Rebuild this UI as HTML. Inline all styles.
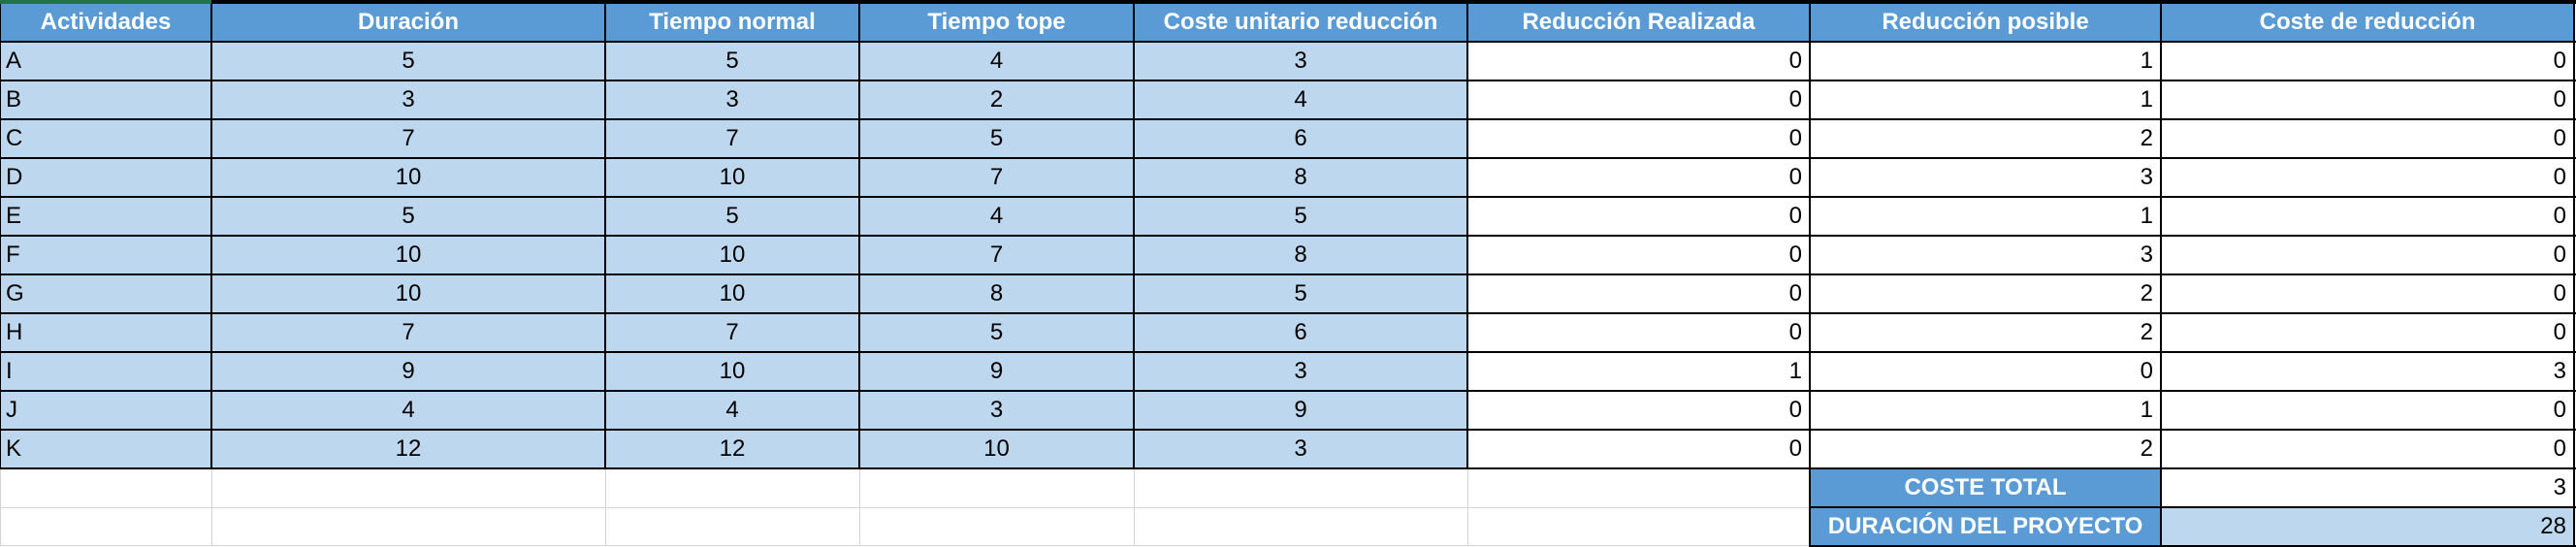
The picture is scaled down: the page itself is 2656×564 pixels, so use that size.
<!DOCTYPE html>
<html><head><meta charset="utf-8"><style>
body{margin:0;width:2656px;height:564px;background:#fff;position:relative;overflow:hidden;font-family:"Liberation Sans Narrow","Liberation Sans",sans-serif;}
.c{position:absolute;box-sizing:border-box;font-size:24px;line-height:40px;white-space:nowrap;overflow:hidden;color:#000;}
.h{background:#5b9bd5;color:#fff;font-weight:bold;text-align:center;}
.l{background:#bdd7ee;}
.w{background:#fff;}
.ln{position:absolute;}
</style></head><body>
<div id="grid"></div>
<div style="position:absolute;left:0;top:0;width:218px;height:4px;background:#217346"></div>
<script>
const headers=["Actividades","Duración","Tiempo normal","Tiempo tope","Coste unitario reducción","Reducción Realizada","Reducción posible","Coste de reducción"];
const acts=["A","B","C","D","E","F","G","H","I","J","K"];
const duracion=[5,3,7,10,5,10,10,7,9,4,12];
const normal=[5,3,7,10,5,10,10,7,10,4,12];
const tope=[4,2,5,7,4,7,8,5,9,3,10];
const costeU=[3,4,6,8,5,8,5,6,3,9,3];
const realizada=[0,0,0,0,0,0,0,0,1,0,0];
const posible=[1,1,2,3,1,3,2,2,0,1,2];
const costeR=[0,0,0,0,0,0,0,0,3,0,0];
const costeTotal=3, duracionProyecto=28;
const xs=[0,218,624,886,1169,1513,1866,2228,2654];
const top0=3,rh=40;
const g=document.getElementById('grid');
function cell(ci,ri,txt,cls,align,name){
  const d=document.createElement('div');
  d.className='c '+cls;
  d.style.left=xs[ci]+'px';d.style.top=(top0+ri*rh)+'px';
  d.style.width=(xs[ci+1]-xs[ci])+'px';d.style.height=rh+'px';
  d.style.textAlign=align;
  d.style.padding=align==='right'?'0 8px 0 0':(align==='left'?'0 0 0 6px':'0');
  d.textContent=txt;
  
  
  g.appendChild(d);
}
function line(x,y,w,h,col){
  const d=document.createElement('div');
  d.className='ln';
  d.style.left=x+'px';d.style.top=y+'px';d.style.width=w+'px';d.style.height=h+'px';d.style.background=col;
  
  
  g.appendChild(d);
}
headers.forEach((h,i)=>cell(i,0,h,'h','center','header-'+i));
const cols=[acts,duracion,normal,tope,costeU,realizada,posible,costeR];
for(let r=0;r<acts.length;r++){
  for(let c=0;c<8;c++){
    const light=c<5;
    cell(c,r+1,String(cols[c][r]),light?'l':'w',c===0?'left':(light?'center':'right'),'cell-'+acts[r]+'-'+c);
  }
}
const r1=acts.length+1,r2=r1+1;
cell(6,r1,'COSTE TOTAL','h','center','coste-total-label');
cell(7,r1,String(costeTotal),'w','right','coste-total-value');
cell(6,r2,'DURACIÓN DEL PROYECTO','h','center','duracion-proyecto-label');
cell(7,r2,String(duracionProyecto),'l','right','duracion-proyecto-value');
const yEnd=top0+r1*rh, yBot=top0+(r2+1)*rh;
// gray grid for empty bottom area
for(let c=0;c<6;c++) line(xs[c],yEnd,1,yBot-yEnd,'#d4d4d4');
line(0,yEnd+rh,xs[6],1,'#d4d4d4');
line(0,yBot-1,xs[6],1,'#d4d4d4');
// black main grid
line(xs[1],0,xs[8]-xs[1]+2,3,'#000');
for(let r=0;r<=r1;r++) line(0,top0+r*rh-1,xs[8]+2,2,'#000');
for(let c=0;c<=8;c++) line(xs[c]-1,0,2,yEnd+1,'#000');
for(let r=r1+1;r<=r2+1;r++) line(xs[6]-1,top0+r*rh-1,xs[8]-xs[6]+3,2,'#000');
for(let c=6;c<=8;c++) line(xs[c]-1,yEnd,2,yBot-yEnd,'#000');
</script>
</body></html>
